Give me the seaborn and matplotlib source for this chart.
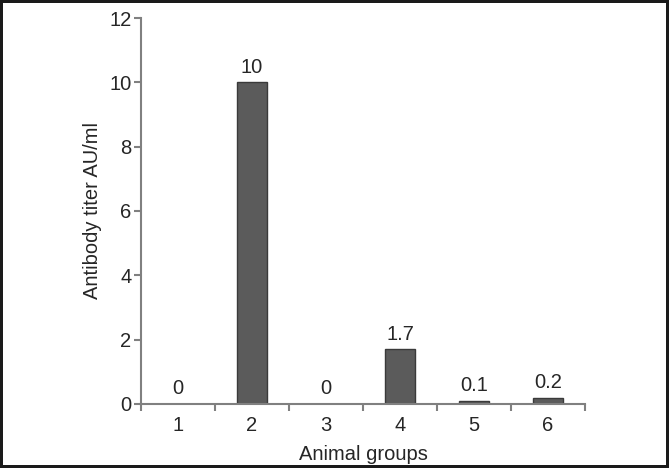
import matplotlib
matplotlib.use("Agg")
import matplotlib.pyplot as plt
import seaborn as sns
import pandas as pd
from matplotlib.ticker import FixedLocator

# values
groups = ["1", "2", "3", "4", "5", "6"]
titer = [0, 10, 0, 1.7, 0.1, 0.2]
bar_text = ["0", "10", "0", "1.7", "0.1", "0.2"]

df = pd.DataFrame({"Animal groups": groups, "titer": titer})

sns.set_style("white")
plt.rcParams["font.family"] = ["Liberation Sans", "DejaVu Sans"]
fs = 14.5

fig = plt.figure(figsize=(6.69, 4.68), dpi=100, edgecolor="#1a1a1a", linewidth=3)
ax = fig.add_axes([0.2108, 0.1368, 0.8744 - 0.2108, 0.9615 - 0.1368])

sns.barplot(data=df, x="Animal groups", y="titer", color="#5b5b5b",
            width=0.4, edgecolor="#3a3a3a", linewidth=1, saturation=1, ax=ax)

ax.bar_label(ax.containers[0], labels=bar_text, padding=4, fontsize=fs)

ax.set_ylim(0, 12)
ax.set_yticks([0, 2, 4, 6, 8, 10, 12])
ax.set_xlim(-0.5, 5.5)

# category boundary ticks like the original
ax.xaxis.set_minor_locator(FixedLocator([-0.5, 0.5, 1.5, 2.5, 3.5, 4.5, 5.5]))
ax.tick_params(axis="x", which="major", length=0, labelsize=fs, pad=9)
ax.tick_params(axis="x", which="minor", length=5, width=1.5, color="#808080", direction="out")
ax.tick_params(axis="y", length=5, width=1.5, color="#808080", direction="out", labelsize=fs, pad=2)
ax.tick_params(bottom=True, left=True, which="both")

for s in ["top", "right"]:
    ax.spines[s].set_visible(False)
for s in ["left", "bottom"]:
    ax.spines[s].set_color("#808080")
    ax.spines[s].set_linewidth(1.5)

ax.set_xlabel("Animal groups", fontsize=fs, labelpad=7)
ax.set_ylabel("Antibody titer AU/ml", fontsize=fs, labelpad=5)

fig.savefig("out.png", dpi=100)
